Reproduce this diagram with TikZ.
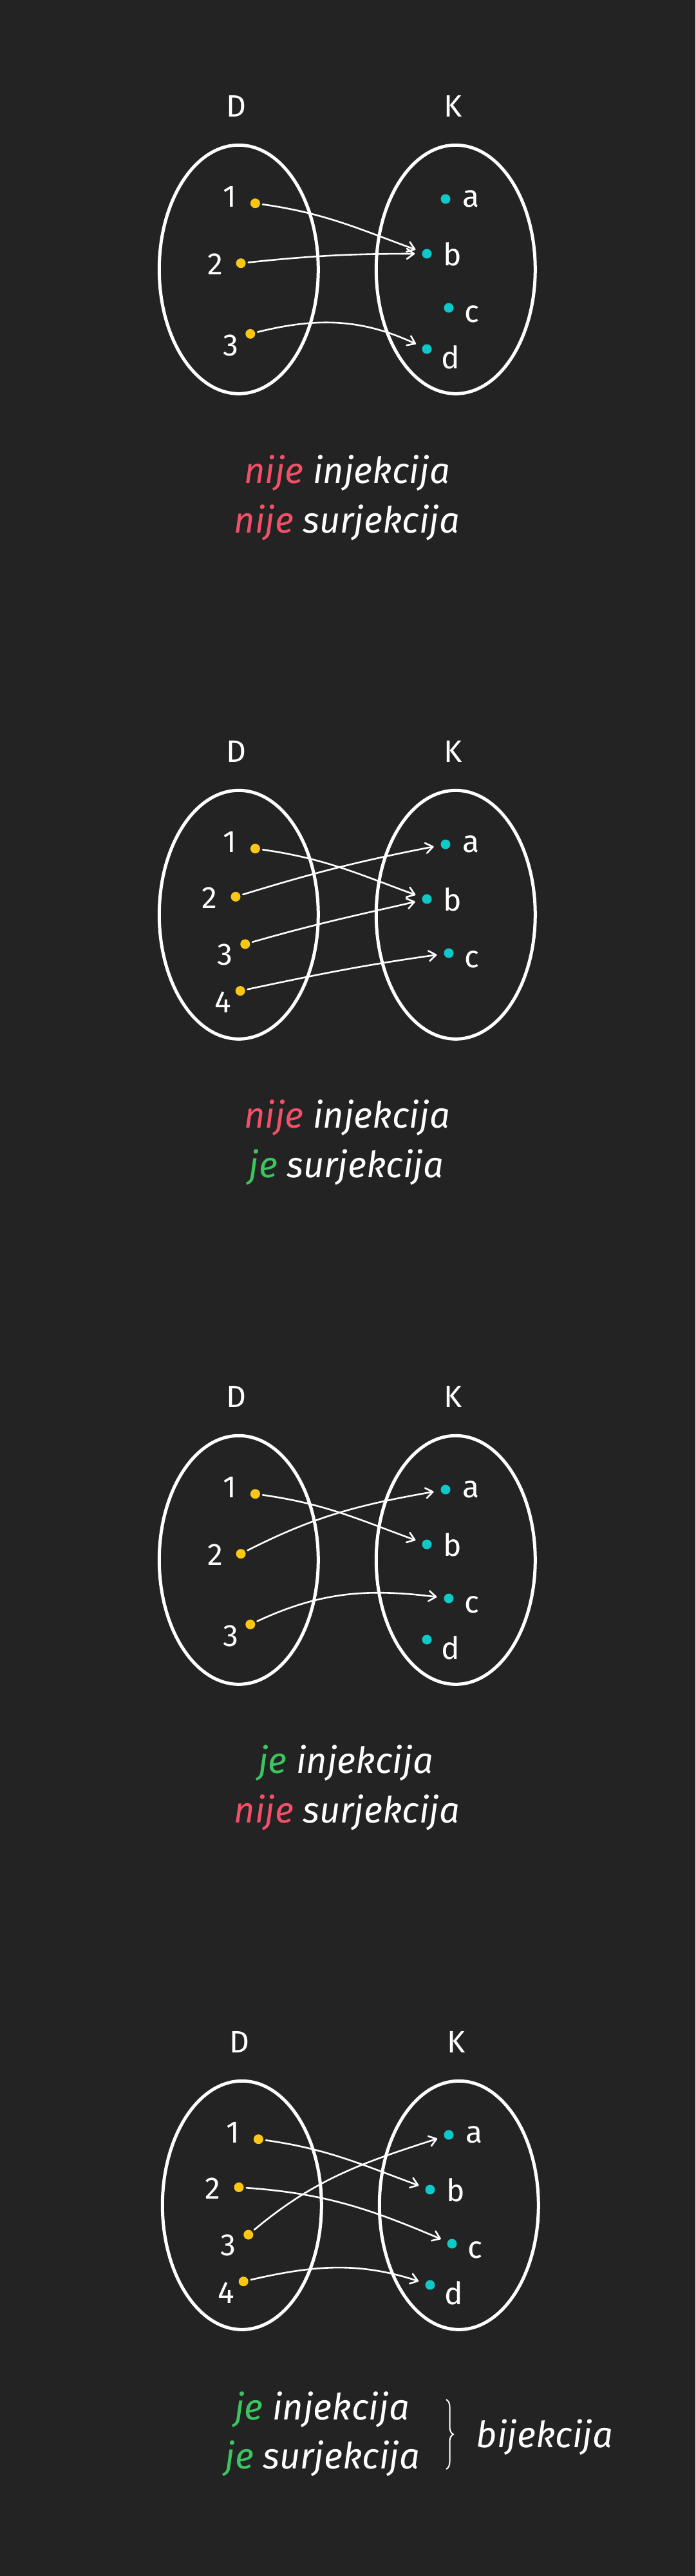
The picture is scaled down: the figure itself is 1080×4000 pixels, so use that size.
\documentclass[tikz,border=0pt]{standalone}
\usepackage{fontspec}
\setmainfont{Fira Sans}
\usetikzlibrary{arrows.meta,decorations.pathreplacing}
\definecolor{bg}{HTML}{232323}
\definecolor{yel}{HTML}{FAC814}
\definecolor{cy}{HTML}{0FC8C8}
\definecolor{nred}{HTML}{F25068}
\definecolor{ngreen}{HTML}{3CC460}

\newcommand{\DKframe}[1]{%
  \node[lbl,anchor=base] (#1D) at (367,181) {D};
  \node[lbl,anchor=base] (#1K) at (704,181) {K};
  \draw[setline] (370.8,418.3) ellipse [x radius=123.5, y radius=193];
  \draw[setline] (707.8,418.3) ellipse [x radius=123.5, y radius=193];
}
\newcommand{\Kthree}[1]{%
  \node[kdot] (#1ka) at (692,309) {};
  \node[kdot] (#1kb) at (663,394) {};
  \node[kdot] (#1kc) at (697,478) {};
  \node[letl] (#1la) at (718,321.7) {a};
  \node[letl] (#1lb) at (688,412.2) {b};
  \node[letl] (#1lc) at (721,500) {c};
}
\newcommand{\Kfour}[1]{%
  \Kthree{#1}
  \node[kdot] (#1kd) at (663,542) {};
  \node[letl] (#1ld) at (685,572) {d};
}
\newcommand{\Dthree}[1]{%
  \node[ydot] (#1y1) at (396.4,315.7) {};
  \node[ydot] (#1y2) at (374.1,408.7) {};
  \node[ydot] (#1y3) at (388.8,518.4) {};
  \node[numl] (#1n1) at (367,321) {1};
  \node[numl] (#1n2) at (346,426.2) {2};
  \node[numl] (#1n3) at (371,552) {3};
}
\newcommand{\Dfour}[1]{%
  \node[ydot] (#1y1) at (396.4,315.7) {};
  \node[ydot] (#1y2) at (366,390.4) {};
  \node[ydot] (#1y3) at (380.8,464) {};
  \node[ydot] (#1y4) at (373.2,536.6) {};
  \node[numl] (#1n1) at (367,321) {1};
  \node[numl] (#1n2) at (337,408.6) {2};
  \node[numl] (#1n3) at (362,496.3) {3};
  \node[numl] (#1n4) at (359,570) {4};
}

\begin{document}
\begin{tikzpicture}[x=1pt,y=-1pt,
  setline/.style={draw=white,line width=5pt},
  ydot/.style={circle,fill=yel,inner sep=0pt,minimum size=15pt},
  kdot/.style={circle,fill=cy,inner sep=0pt,minimum size=15pt},
  lbl/.style={text=white,inner sep=0pt,font=\fontsize{48}{58}\selectfont},
  numl/.style={lbl,anchor=base east},
  letl/.style={lbl,anchor=base west},
  captxt/.style={text=white,inner sep=0pt,anchor=base,font=\fontsize{56}{66}\selectfont\itshape},
  arr/.style={draw=white,line width=2.6pt,line cap=round,
    -{Straight Barb[length=11pt,width=16pt,round]},shorten <=4pt,shorten >=11pt}
]
\fill[bg] (0,0) rectangle (1080,4000);
\useasboundingbox (0,0) rectangle (1080,4000);

% Panel 1
\begin{scope}
  \DKframe{p1}
  \Kfour{p1}
  \Dthree{p1}
  \draw[arr] (p1y1) to[out=-8,in=160] (p1kb);
  \draw[arr] (p1y2) to[out=6,in=180] (p1kb);
  \draw[arr] (p1y3) to[out=14,in=155] (p1kd);
  \node[captxt] (p1c1) at (539,750) {{\color{nred}nije} injekcija};
  \node[captxt] (p1c2) at (539,827) {{\color{nred}nije} surjekcija};
\end{scope}

% Panel 2
\begin{scope}[shift={(0,1002)}]
  \DKframe{p2}
  \Kthree{p2}
  \Dfour{p2}
  \draw[arr] (p2y1) to[out=-8,in=160] (p2kb);
  \draw[arr] (p2y2) to[out=17,in=191] (p2ka);
  \draw[arr] (p2y3) to[out=16,in=193] (p2kb);
  \draw[arr] (p2y4) to[out=12,in=188] (p2kc);
  \node[captxt] (p2c1) at (539,749) {{\color{nred}nije} injekcija};
  \node[captxt] (p2c2) at (538,826) {{\color{ngreen}je} surjekcija};
\end{scope}

% Panel 3
\begin{scope}[shift={(0,2004)}]
  \DKframe{p3}
  \Kfour{p3}
  \Dthree{p3}
  \draw[arr] (p3y1) to[out=-8,in=160] (p3kb);
  \draw[arr] (p3y2) to[out=27,in=190] (p3ka);
  \draw[arr] (p3y3) to[out=25,in=173] (p3kc);
  \node[captxt] (p3c1) at (537,749) {{\color{ngreen}je} injekcija};
  \node[captxt] (p3c2) at (539,826) {{\color{nred}nije} surjekcija};
\end{scope}

% Panel 4
\begin{scope}[shift={(5,3006)}]
  \DKframe{p4}
  \Kfour{p4}
  \Dfour{p4}
  \draw[arr] (p4y1) to[out=-8,in=160] (p4kb);
  \draw[arr] (p4y2) to[out=-4,in=157] (p4kc);
  \draw[arr] (p4y3) to[out=40,in=198] (p4ka);
  \draw[arr] (p4y4) to[out=13,in=162] (p4kd);
  \node[captxt] (p4c1) at (495,751) {{\color{ngreen}je} injekcija};
  \node[captxt] (p4c2) at (496,827) {{\color{ngreen}je} surjekcija};
  \coordinate (p4bt) at (688,720);
  \coordinate (p4bb) at (688,828);
  \draw[white,line width=2pt,decorate,decoration={brace,amplitude=11pt}] (p4bt) -- (p4bb);
  \node[captxt] (p4bij) at (841,794) {bijekcija};
\end{scope}
\end{tikzpicture}
\end{document}
